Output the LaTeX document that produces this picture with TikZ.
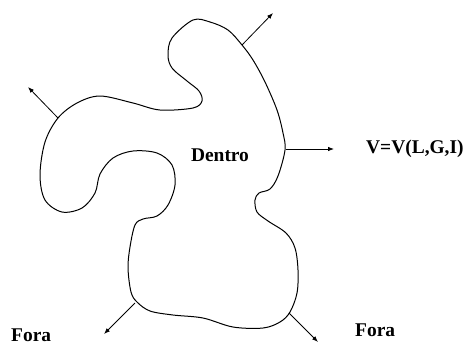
\documentclass[tikz,border=0pt]{standalone}
\usepackage{fontspec}
\setmainfont{Liberation Serif}
\usetikzlibrary{arrows.meta}
\begin{document}
\begin{tikzpicture}[x=1bp,y=-1bp,
  outline/.style={line width=1bp, line join=round},
  vec/.style={line width=0.8bp, -{Latex[length=6bp,width=4.5bp]}},
  lbl/.style={font=\fontsize{19.5}{22}\selectfont\bfseries, inner sep=0pt}]
\useasboundingbox (0,0) rectangle (466,345);
\draw[outline] plot[smooth cycle, tension=0.55] coordinates {
 (193,20) (172,38) (168,55) (172,68) (187,81) (199,91) (202,101) (193,108) (160,110)
 (133,103) (100,96) (77,103) (58,118) (45,142) (40,175) (45,200) (62,212) (82,208)
 (95,193) (100,174) (113,158) (133,151) (157,153) (172,165) (175,185) (168,205)
 (157,216) (143,219) (135,225) (130,247) (128,268) (131,292) (137,302) (150,311)
 (173,315) (203,318) (233,327) (263,328) (280,322) (290,312) (297,293) (298,270)
 (295,248) (286,233) (268,221) (257,212) (255,200) (259,193) (270,189) (278,176)
 (285,150) (283,133) (277,110) (265,82) (253,60) (242,45) (228,30) (210,22)};
\coordinate (b1) at (242,45);  \coordinate (t1) at (273,13);
\coordinate (b2) at (58,118);  \coordinate (t2) at (28,87);
\coordinate (b3) at (286,149); \coordinate (t3) at (334,149);
\coordinate (b4) at (135,303); \coordinate (t4) at (104,334);
\coordinate (b5) at (289,313); \coordinate (t5) at (318,342);
\draw[vec] (b1) -- (t1);
\draw[vec] (b2) -- (t2);
\draw[vec] (b3) -- (t3);
\draw[vec] (b4) -- (t4);
\draw[vec] (b5) -- (t5);
\node[lbl] (dentro) at (220,155) {Dentro};
\node[lbl, anchor=west] (v) at (366,149) {V=V(L,G,I)};
\node[lbl, anchor=west] (fora1) at (11,335.5) {Fora};
\node[lbl, anchor=west] (fora2) at (355,330) {Fora};
\end{tikzpicture}
\end{document}
